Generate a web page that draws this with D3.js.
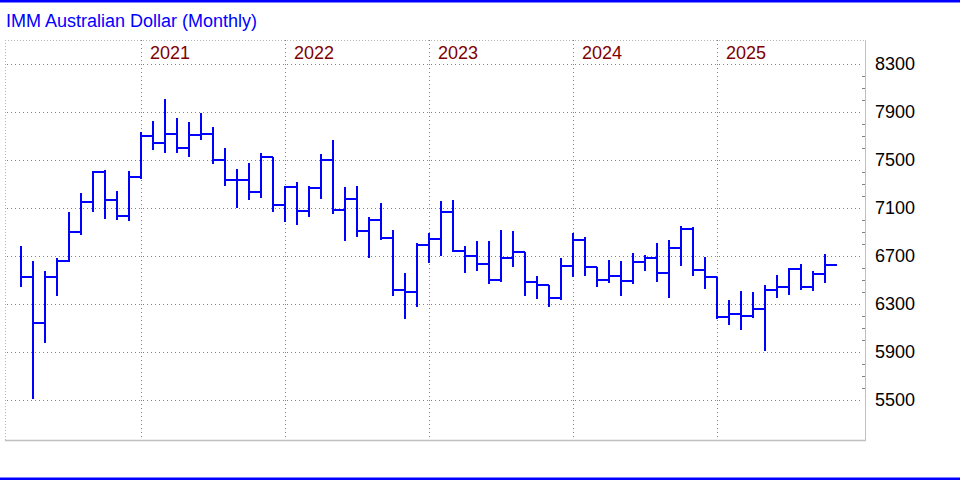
<!DOCTYPE html>
<html>
<head>
<meta charset="utf-8">
<script src="https://cdn.jsdelivr.net/npm/d3@7"></script>
<style>
  body { margin: 0; background: #fff; }
  svg { display: block; }
</style>
</head>
<body>
<div id="chart"></div>
<script>
// IMM Australian Dollar, monthly HLC bars (Feb 2020 - Sep 2025)

const title = "IMM Australian Dollar (Monthly)";

// one entry per month, starting Feb 2020
const months = d3.timeMonth.range(new Date(2020, 1, 1), new Date(2025, 9, 1));

const highs = [
  6783, 6658, 6575, 6681, 7067, 7225, 7397, 7417, 7242, 7408, 7736,
  7825, 8008, 7847, 7814, 7892, 7772, 7597, 7422, 7472, 7556, 7528, 7275,
  7314, 7281, 7550, 7667, 7275, 7281, 7028, 7139, 6914, 6556, 6806, 6889,
  7158, 7164, 6781, 6822, 6822, 6917, 6907, 6736, 6533, 6461, 6683, 6894,
  6858, 6611, 6667, 6658, 6725, 6708, 6811, 6833, 6950, 6939, 6692, 6528,
  6333, 6408, 6400, 6458, 6542, 6592, 6633, 6575, 6719
];
const lows = [
  6439, 5508, 5978, 6369, 6650, 6878, 7069, 7006, 6997, 6989, 7339,
  7583, 7561, 7561, 7528, 7669, 7469, 7286, 7103, 7169, 7186, 7064, 6986,
  6961, 7028, 7172, 7053, 6828, 6856, 6681, 6831, 6369, 6178, 6278, 6644,
  6700, 6747, 6561, 6578, 6464, 6486, 6612, 6369, 6344, 6278, 6331, 6528,
  6536, 6444, 6478, 6369, 6469, 6578, 6486, 6353, 6619, 6536, 6428, 6178,
  6128, 6086, 6186, 5911, 6353, 6378, 6414, 6411, 6478
];
const closes = [
  6528, 6144, 6528, 6661, 6900, 7153, 7397, 7169, 7036, 7361, 7703,
  7644, 7714, 7603, 7711, 7719, 7500, 7336, 7331, 7233, 7528, 7128, 7275,
  7075, 7269, 7503, 7086, 7178, 6911, 7003, 6853, 6417, 6400, 6794, 6839,
  7069, 6744, 6703, 6636, 6500, 6680, 6735, 6486, 6461, 6350, 6619, 6836,
  6608, 6503, 6536, 6494, 6653, 6686, 6561, 6767, 6928, 6583, 6528, 6192,
  6217, 6200, 6261, 6414, 6444, 6594, 6442, 6553, 6625
];

// price axis labels
const priceTicks = [5500, 5900, 6300, 6700, 7100, 7500, 7900, 8300];

const width = 960, height = 480;
const plot = { left: 5, right: 865, top: 40, bottom: 440 };
const barColor = "#0000ff";

const bars = months.map((m, i) => ({
  month: m, high: highs[i], low: lows[i], close: closes[i]
}));

const svg = d3.select("#chart")
  .append("svg")
  .attr("width", width)
  .attr("height", height)
  .style("font-family", "'Liberation Sans', Arial, sans-serif");

// blue rules top and bottom
svg.append("rect").attr("x", 0).attr("y", 0).attr("width", width).attr("height", 2.5).attr("fill", barColor);
svg.append("rect").attr("x", 0).attr("y", 477.5).attr("width", width).attr("height", 2.5).attr("fill", barColor);

svg.append("text")
  .attr("x", 6)
  .attr("y", 27)
  .attr("font-size", "18px")
  .attr("fill", barColor)
  .text(title);

// scales
const x = d3.scalePoint()
  .domain(d3.range(bars.length))
  .range([plot.left + 16, plot.right - 40]);

const y = d3.scaleLinear()
  .domain([5500, 8300])
  .range([400, 64]);

const step = x.step();

// frame
svg.append("line")
  .attr("x1", plot.left).attr("x2", plot.right)
  .attr("y1", plot.top + 0.5).attr("y2", plot.top + 0.5)
  .attr("stroke", "#b4b4b4").attr("stroke-dasharray", "1,2");
svg.append("line")
  .attr("x1", plot.left + 0.5).attr("x2", plot.left + 0.5)
  .attr("y1", plot.top).attr("y2", plot.bottom)
  .attr("stroke", "#b4b4b4").attr("stroke-dasharray", "1,2");

// horizontal grid
svg.append("g")
  .selectAll("line")
  .data(priceTicks)
  .join("line")
  .attr("x1", plot.left + 2)
  .attr("x2", plot.right - 3)
  .attr("y1", d => Math.round(y(d)) + 0.5)
  .attr("y2", d => Math.round(y(d)) + 0.5)
  .attr("stroke", "#808080")
  .attr("stroke-dasharray", "1,3");

// year grid + labels (line sits on the December bar)
const decIdx = bars.map((b, i) => i).filter(i => bars[i].month.getMonth() === 11);

svg.append("g")
  .selectAll("line")
  .data(decIdx)
  .join("line")
  .attr("x1", i => Math.round(x(i)) + 0.5)
  .attr("x2", i => Math.round(x(i)) + 0.5)
  .attr("y1", plot.top)
  .attr("y2", plot.bottom)
  .attr("stroke", "#808080")
  .attr("stroke-dasharray", "1,3");

svg.append("g")
  .selectAll("text")
  .data(decIdx)
  .join("text")
  .attr("x", i => x(i) + 9)
  .attr("y", 59)
  .attr("font-size", "18px")
  .attr("fill", "#800000")
  .text(i => bars[i].month.getFullYear() + 1);

// right axis: line, minor ticks, labels
svg.append("line")
  .attr("x1", plot.right + 0.5).attr("x2", plot.right + 0.5)
  .attr("y1", plot.top).attr("y2", plot.bottom + 1)
  .attr("stroke", "#c0c0c0");
svg.append("line")
  .attr("x1", plot.left).attr("x2", plot.right + 1)
  .attr("y1", plot.bottom + 0.5).attr("y2", plot.bottom + 0.5)
  .attr("stroke", "#c0c0c0").attr("stroke-width", 1.5);

const minorTicks = d3.range(5500, 8400, 100).filter(v => priceTicks.indexOf(v) < 0);
svg.append("g")
  .selectAll("line")
  .data(minorTicks)
  .join("line")
  .attr("x1", plot.right - 3)
  .attr("x2", plot.right)
  .attr("y1", d => Math.round(y(d)) + 0.5)
  .attr("y2", d => Math.round(y(d)) + 0.5)
  .attr("stroke", "#808080");

svg.append("g")
  .selectAll("text")
  .data(priceTicks)
  .join("text")
  .attr("x", 875)
  .attr("y", d => y(d))
  .attr("dy", "0.36em")
  .attr("font-size", "18px")
  .attr("fill", "#000")
  .text(d => d);

// HLC bars: vertical high-low, close tick to the right
const barG = svg.append("g")
  .attr("stroke", barColor)
  .attr("stroke-width", 2);

barG.selectAll("line.hl")
  .data(bars)
  .join("line")
  .attr("class", "hl")
  .attr("x1", (d, i) => Math.round(x(i)))
  .attr("x2", (d, i) => Math.round(x(i)))
  .attr("y1", d => Math.round(y(d.high)))
  .attr("y2", d => Math.round(y(d.low)));

barG.selectAll("line.cl")
  .data(bars)
  .join("line")
  .attr("class", "cl")
  .attr("x1", (d, i) => Math.round(x(i)) - 1)
  .attr("x2", (d, i) => Math.round(x(i)) + step)
  .attr("y1", d => Math.round(y(d.close)))
  .attr("y2", d => Math.round(y(d.close)));
</script>
</body>
</html>
